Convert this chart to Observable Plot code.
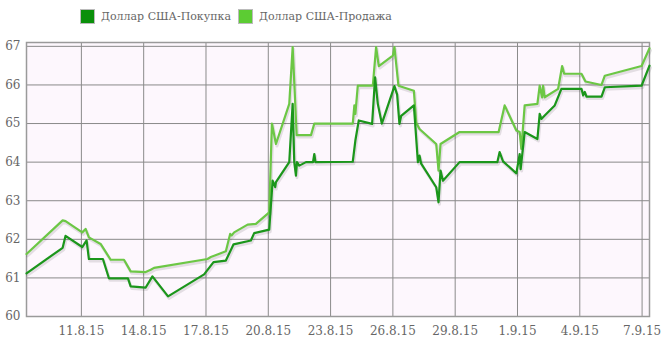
<!DOCTYPE html>
<html>
<head>
<meta charset="utf-8">
<script src="https://cdn.jsdelivr.net/npm/d3@7"></script>
<script src="https://cdn.jsdelivr.net/npm/@observablehq/plot@0.6"></script>
<style>
  html, body { margin: 0; padding: 0; background: #fff; }
  #legend { position: relative; height: 32px; width: 670px; font-family: "DejaVu Serif", serif; font-size: 11px; color: #666; }
  .item { position: absolute; top: 9px; display: flex; align-items: center; white-space: nowrap; }
  .sw { width: 15px; height: 15px; border: 1px solid #bbb; box-sizing: border-box; margin-right: 6px; }
  #chart svg { display: block; }
</style>
</head>
<body>
<div id="legend"></div>
<div id="chart"></div>
<script>
const seriesNames = ["Доллар США-Покупка", "Доллар США-Продажа"];
const seriesColors = ["#1b961b", "#6cc745"];
const legendColors = ["#0a900a", "#5ccc33"];

const buyTimes = [
  "2015-08-08T08:34","2015-08-10T02:21","2015-08-10T05:42","2015-08-11T01:00","2015-08-11T06:01",
  "2015-08-11T08:41","2015-08-12T00:53","2015-08-12T07:51","2015-08-13T05:50","2015-08-13T08:57",
  "2015-08-14T02:19","2015-08-14T10:05","2015-08-15T04:09","2015-08-16T21:49","2015-08-17T08:42",
  "2015-08-17T22:57","2015-08-18T07:52","2015-08-19T03:53","2015-08-19T07:42","2015-08-20T01:05",
  "2015-08-20T05:01","2015-08-20T08:01","2015-08-20T08:50","2015-08-21T00:14","2015-08-21T04:10",
  "2015-08-21T06:01","2015-08-21T07:59","2015-08-21T09:09","2015-08-21T11:48","2015-08-21T19:34",
  "2015-08-22T03:40","2015-08-22T05:11","2015-08-22T06:33","2015-08-24T01:38","2015-08-24T04:38",
  "2015-08-24T08:34","2015-08-24T23:59","2015-08-25T03:26","2015-08-25T06:34","2015-08-25T11:13",
  "2015-08-26T01:48","2015-08-26T04:55","2015-08-26T07:35","2015-08-26T09:33","2015-08-27T00:16",
  "2015-08-27T04:54","2015-08-27T06:45","2015-08-27T08:43","2015-08-28T02:05","2015-08-28T04:45",
  "2015-08-28T07:03","2015-08-28T09:50","2015-08-29T05:04","2015-08-31T00:42","2015-08-31T03:22",
  "2015-08-31T07:18","2015-08-31T22:42","2015-09-01T02:31","2015-09-01T03:40","2015-09-01T08:18",
  "2015-09-01T23:00","2015-09-02T01:39","2015-09-02T03:37","2015-09-02T07:27","2015-09-02T19:02",
  "2015-09-03T02:47","2015-09-04T01:57","2015-09-04T03:55","2015-09-04T05:46","2015-09-04T07:44",
  "2015-09-05T01:06","2015-09-05T04:55","2015-09-06T23:24","2015-09-07T08:34"
];
const buyValues = [
  61.12,61.78,62.09,61.80,61.97,
  61.49,61.49,60.99,60.99,60.78,
  60.75,61.04,60.52,61.09,61.41,
  61.45,61.87,61.97,62.16,62.25,
  63.52,63.35,63.48,64.00,65.51,
  64.00,63.65,64.00,63.91,64.00,
  64.00,64.21,64.00,64.01,64.56,
  65.08,64.99,66.20,65.51,65.00,
  65.97,65.75,64.99,65.20,65.47,
  64.00,64.17,63.96,63.35,62.96,
  63.78,63.52,64.00,64.00,64.26,
  64.02,63.71,64.21,63.82,64.78,
  64.60,65.25,65.12,65.21,65.47,
  65.90,65.90,65.73,65.82,65.70,
  65.70,65.94,65.98,66.50
];

const sellTimes = [
  "2015-08-08T08:34","2015-08-10T02:21","2015-08-10T05:42","2015-08-11T01:00","2015-08-11T04:52",
  "2015-08-11T08:41","2015-08-11T22:13","2015-08-12T09:49","2015-08-13T01:12","2015-08-13T08:57",
  "2015-08-14T02:19","2015-08-14T08:07","2015-08-14T11:56","2015-08-17T01:45","2015-08-17T05:35",
  "2015-08-17T22:57","2015-08-18T03:55","2015-08-18T05:32","2015-08-18T08:33","2015-08-19T00:04",
  "2015-08-19T09:40","2015-08-20T01:05","2015-08-20T04:12","2015-08-20T08:50","2015-08-21T00:14",
  "2015-08-21T04:10","2015-08-21T08:48","2015-08-22T01:21","2015-08-22T05:11","2015-08-24T01:38",
  "2015-08-24T03:29","2015-08-24T04:38","2015-08-24T07:25","2015-08-25T00:47","2015-08-25T04:36",
  "2015-08-25T07:44","2015-08-25T23:57","2015-08-26T01:48","2015-08-26T06:26","2015-08-27T00:16",
  "2015-08-27T02:55","2015-08-27T06:45","2015-08-28T02:05","2015-08-28T04:45","2015-08-28T07:03",
  "2015-08-29T05:04","2015-08-31T02:12","2015-08-31T09:09","2015-08-31T22:42","2015-09-01T02:31",
  "2015-09-01T04:28","2015-09-01T08:18","2015-09-01T23:00","2015-09-02T01:39","2015-09-02T04:26",
  "2015-09-02T05:35","2015-09-02T07:27","2015-09-02T22:58","2015-09-03T03:36","2015-09-03T05:56",
  "2015-09-04T01:57","2015-09-04T06:35","2015-09-05T01:06","2015-09-05T04:55","2015-09-06T23:24",
  "2015-09-07T08:34"
];
const sellValues = [
  61.62,62.49,62.47,62.18,62.27,
  62.05,61.88,61.47,61.47,61.17,
  61.15,61.21,61.26,61.49,61.54,
  61.69,62.14,62.10,62.18,62.38,
  62.40,62.70,65.00,64.47,65.51,
  66.98,64.70,64.70,65.00,65.00,
  65.47,65.25,65.98,65.98,66.98,
  66.49,66.76,66.98,65.98,65.85,
  65.03,64.86,64.47,63.78,64.47,
  64.78,64.78,65.47,64.82,64.78,
  64.34,65.47,65.51,65.98,65.68,
  65.98,65.68,65.90,66.49,66.29,
  66.29,66.09,66.00,66.24,66.49,
  66.95
];

const xTickDates = ["2015-08-11","2015-08-14","2015-08-17","2015-08-20","2015-08-23","2015-08-26","2015-08-29","2015-09-01","2015-09-04","2015-09-07"];
const yTickValues = [60, 61, 62, 63, 64, 65, 66, 67];
const yDomain = [60, 67.1];
const xDomain = ["2015-08-08T08:34", "2015-09-07T08:34"];

const buy = buyTimes.map((t, i) => ({date: new Date(t), value: buyValues[i]}));
const sell = sellTimes.map((t, i) => ({date: new Date(t), value: sellValues[i]}));
const xTicks = xTickDates.map(s => new Date(s + "T00:00"));
const fmt = d => `${d.getDate()}.${d.getMonth() + 1}.${String(d.getFullYear()).slice(2)}`;

// legend
const legend = document.getElementById("legend");
const legendX = [80, 238];
seriesNames.forEach((name, i) => {
  const it = document.createElement("div");
  it.className = "item";
  it.style.left = legendX[i] + "px";
  const sw = document.createElement("span");
  sw.className = "sw";
  sw.style.background = legendColors[i];
  const tx = document.createElement("span");
  tx.textContent = name;
  it.appendChild(sw);
  it.appendChild(tx);
  legend.appendChild(it);
});

const chart = Plot.plot({
  width: 670,
  height: 313,
  marginLeft: 26,
  marginRight: 21,
  marginTop: 10,
  marginBottom: 29,
  style: {fontFamily: "'DejaVu Serif', serif", fontSize: "12px", color: "#666", background: "#fff"},
  x: {type: "time", domain: xDomain.map(s => new Date(s))},
  y: {domain: yDomain},
  marks: [
    Plot.frame({fill: "#fdf7fd", stroke: "none"}),
    Plot.gridX({ticks: xTicks, stroke: "#8a8a8a", strokeOpacity: 1}),
    Plot.gridY({ticks: yTickValues, stroke: "#8a8a8a", strokeOpacity: 1}),
    Plot.frame({stroke: "#9a9a9a", strokeWidth: 1.5}),
    Plot.axisX({ticks: xTicks, tickFormat: fmt, tickSize: 0, tickPadding: 10, label: null}),
    Plot.axisY({ticks: yTickValues, tickSize: 0, tickPadding: 6, label: null}),
    Plot.line(sell, {x: "date", y: "value", stroke: "#000", strokeOpacity: 0.1, strokeWidth: 3, dx: 1, dy: 2}),
    Plot.line(buy, {x: "date", y: "value", stroke: "#000", strokeOpacity: 0.1, strokeWidth: 3, dx: 1, dy: 2}),
    Plot.line(sell, {x: "date", y: "value", stroke: seriesColors[1], strokeWidth: 2.2}),
    Plot.line(buy, {x: "date", y: "value", stroke: seriesColors[0], strokeWidth: 2.2})
  ]
});
document.getElementById("chart").appendChild(chart);
</script>
</body>
</html>
